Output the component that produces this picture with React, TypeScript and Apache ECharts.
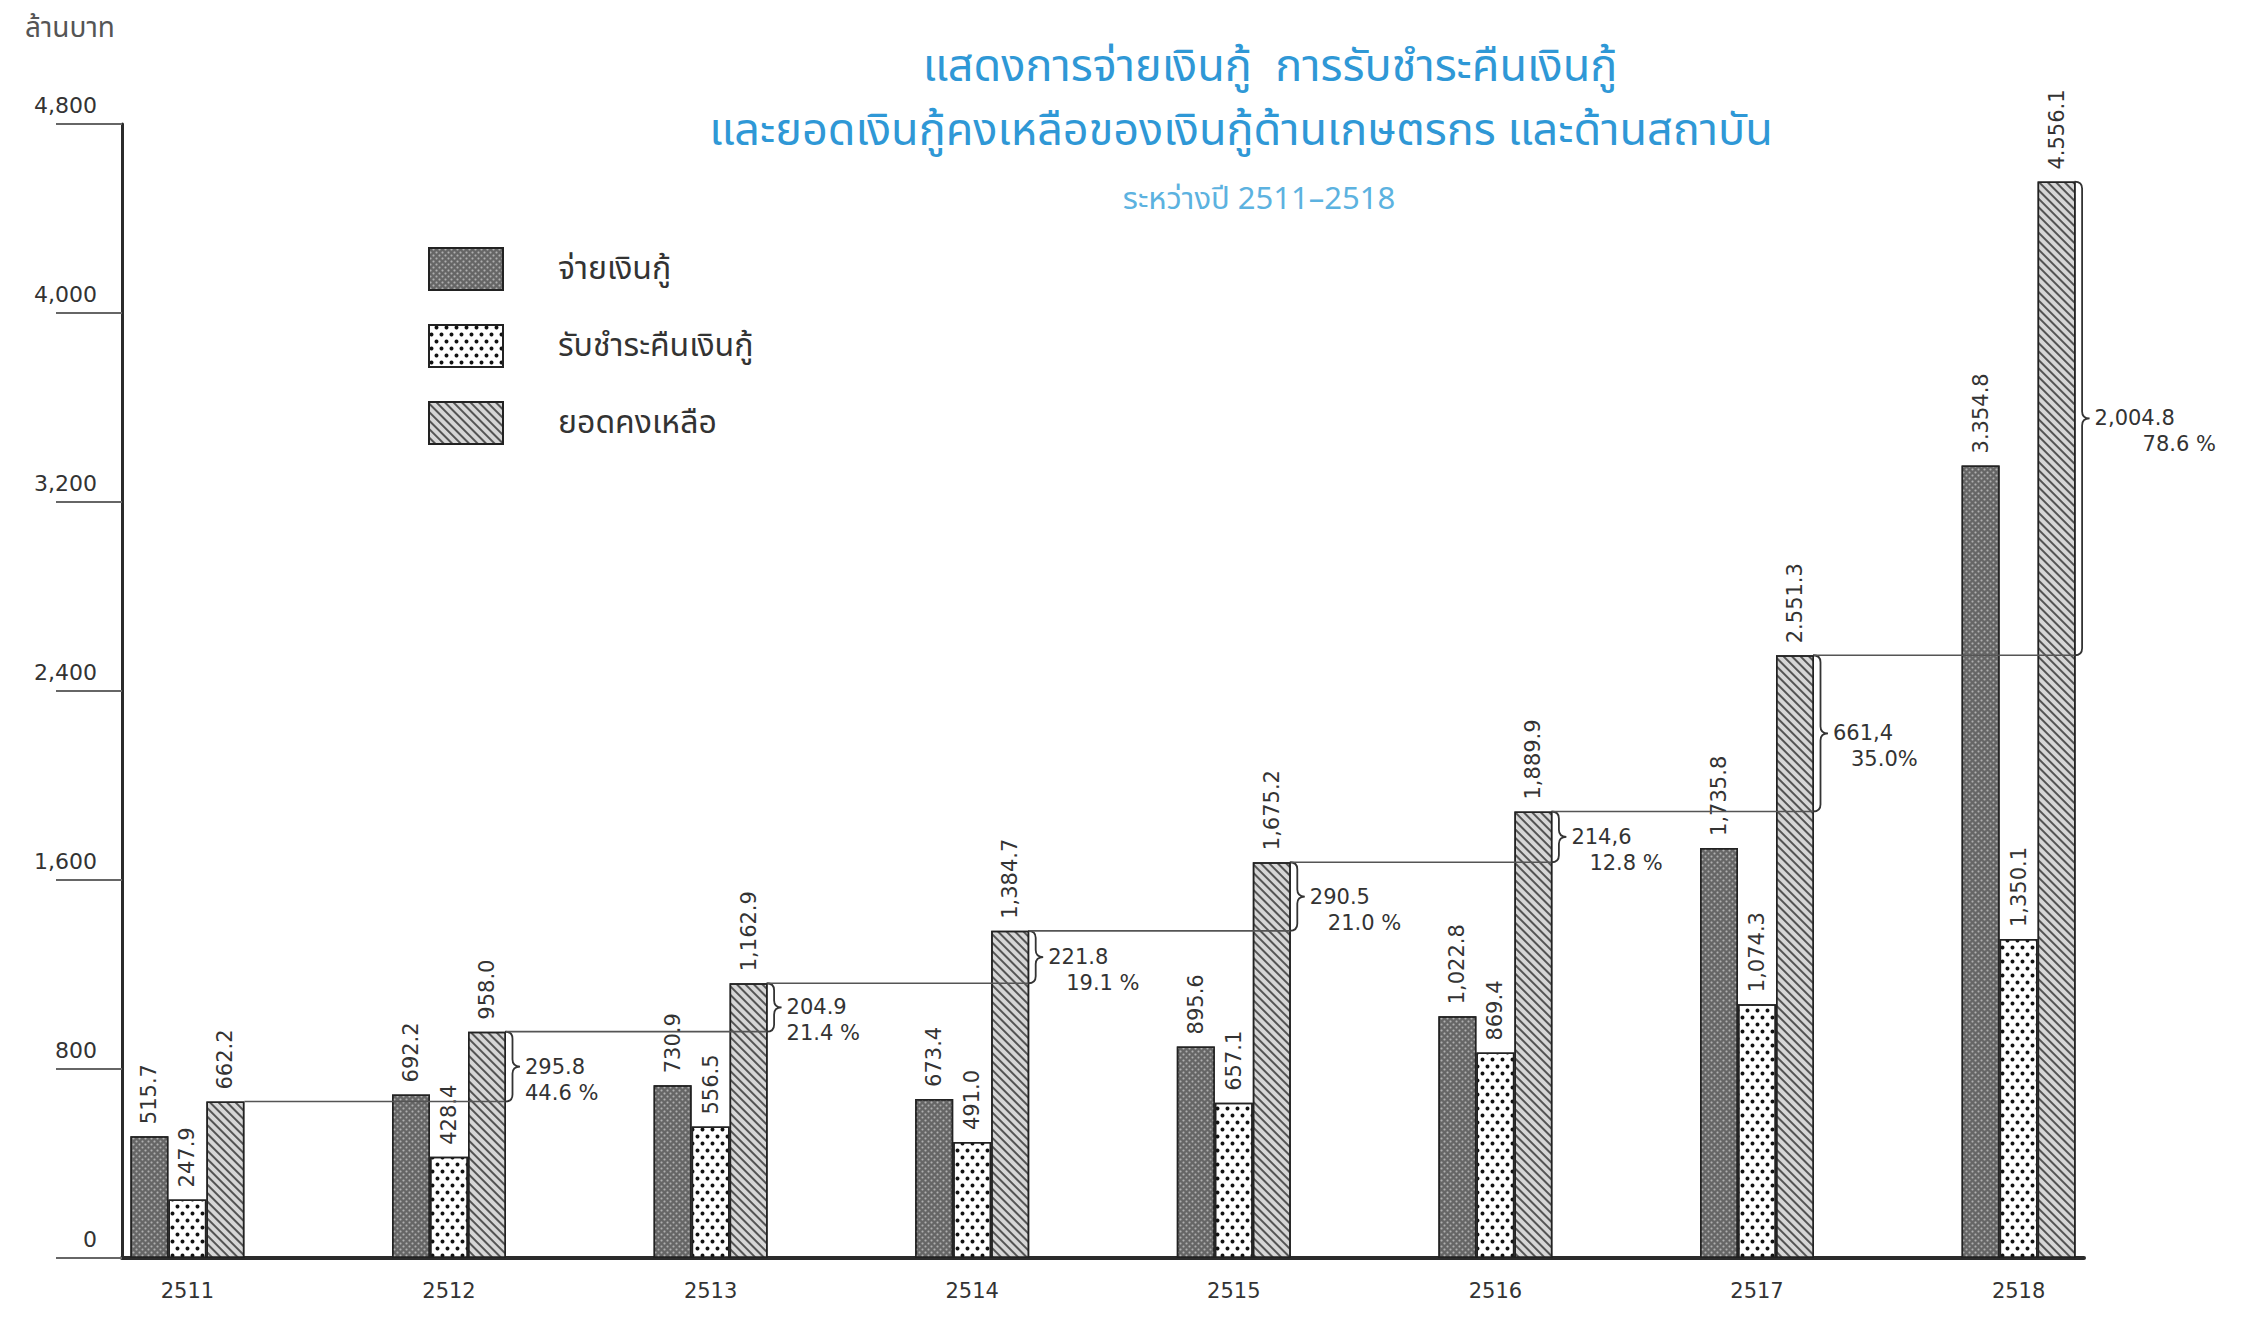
import React, { useEffect, useRef } from 'react';
import * as echarts from 'echarts';

// ---------- data ----------
const years = ['2511', '2512', '2513', '2514', '2515', '2516', '2517', '2518'];
const disbursed = [515.7, 692.2, 730.9, 673.4, 895.6, 1022.8, 1735.8, 3354.8];
const repaid = [247.9, 428.4, 556.5, 491.0, 657.1, 869.4, 1074.3, 1350.1];
const balance = [662.2, 958.0, 1162.9, 1384.7, 1675.2, 1889.9, 2551.3, 4556.1];

const disbursedLabels = ['515.7', '692.2', '730.9', '673.4', '895.6', '1,022.8', '1,735.8', '3.354.8'];
const repaidLabels = ['247.9', '428.4', '556.5', '491.0', '657.1', '869.4', '1,074.3', '1,350.1'];
const balanceLabels = ['662.2', '958.0', '1,162.9', '1,384.7', '1,675.2', '1,889.9', '2.551.3', '4.556.1'];

const increaseLabels = ['295.8', '204.9', '221.8', '290.5', '214,6', '661,4', '2,004.8'];
const increasePctLabels = ['44.6 %', '21.4 %', '19.1 %', '21.0 %', '12.8 %', '35.0%', '78.6 %'];

const seriesNames = ['จ่ายเงินกู้', 'รับชำระคืนเงินกู้', 'ยอดคงเหลือ'];
const unitLabel = 'ล้านบาท';
const titleLine1 = 'แสดงการจ่ายเงินกู้  การรับชำระคืนเงินกู้';
const titleLine2 = 'และยอดเงินกู้คงเหลือของเงินกู้ด้านเกษตรกร และด้านสถาบัน';
const titleLine3 = 'ระหว่างปี 2511–2518';

const yMin = 0;
const yMax = 4800;
const yStep = 800;

// ---------- style ----------
const NUM_FONT = '"DejaVu Sans", "Liberation Sans", sans-serif';
const THAI_FONT = '"Noto Sans Thai", "Noto Sans Thai Looped", Loma, Garuda, Kinnari, Norasi, "Noto Sans", sans-serif';
const BAR_W = 38;
const INK = '#2b2b2b';
const BLUE = '#2f98d6';

export default function App() {
  const ref = useRef<HTMLDivElement>(null);

  useEffect(() => {
    document.body.style.margin = '0';
    if (!ref.current) return;
    const chart = echarts.init(ref.current, null, { renderer: 'svg' });

    const barLabel = (labels: string[]) => ({
      show: true,
      position: 'top',
      rotate: 90,
      align: 'left',
      verticalAlign: 'middle',
      distance: 12,
      fontSize: 21,
      fontFamily: NUM_FONT,
      color: '#333',
      formatter: (p: any) => labels[p.dataIndex],
    });

    const annotationData = balance.slice(1).map((v, k) => [k + 1, balance[k], v]);

    const option: any = {
      animation: false,
      backgroundColor: '#ffffff',
      title: [
        {
          text: unitLabel,
          left: 20,
          top: 9,
          textStyle: { fontSize: 28, color: '#555', fontWeight: 'normal', fontFamily: THAI_FONT },
        },
        {
          text: titleLine1,
          left: 1265,
          top: 39,
          textAlign: 'center',
          textStyle: { fontSize: 45, color: BLUE, fontWeight: 'normal', fontFamily: THAI_FONT },
        },
        {
          text: titleLine2,
          left: 1236,
          top: 103,
          textAlign: 'center',
          textStyle: { fontSize: 45, color: BLUE, fontWeight: 'normal', fontFamily: THAI_FONT },
        },
        {
          text: titleLine3,
          left: 1254,
          top: 179,
          textAlign: 'center',
          textStyle: { fontSize: 31, color: '#5cb2e0', fontWeight: 'normal', fontFamily: THAI_FONT },
        },
      ],
      legend: {
        data: seriesNames,
        orient: 'vertical',
        left: 423,
        top: 242,
        itemWidth: 74,
        itemHeight: 42,
        itemGap: 33,
        icon: 'rect',
        textStyle: { fontSize: 32, color: '#333', fontFamily: THAI_FONT, padding: [0, 0, 0, 50] },
      },
      grid: { left: 122, right: 169, top: 124, bottom: 59, containLabel: false },
      xAxis: {
        type: 'value',
        min: -0.25,
        max: 7.25,
        interval: 0.25,
        axisLine: { show: true, onZero: false, lineStyle: { color: INK, width: 4 } },
        axisTick: { show: false },
        splitLine: { show: false },
        axisLabel: {
          margin: 22,
          fontSize: 21,
          fontFamily: NUM_FONT,
          color: '#333',
          formatter: (v: number) => {
            const r = Math.round(v);
            return Math.abs(v - r) < 1e-6 && r >= 0 && r < years.length ? years[r] : '';
          },
        },
      },
      yAxis: {
        type: 'value',
        min: yMin,
        max: yMax,
        interval: yStep,
        axisLine: { show: true, onZero: false, lineStyle: { color: INK, width: 3 } },
        axisTick: { show: true, inside: false, length: 66, lineStyle: { color: '#666', width: 2 } },
        splitLine: { show: false },
        axisLabel: {
          margin: 25,
          fontSize: 22,
          fontFamily: NUM_FONT,
          color: '#333',
          align: 'right',
          verticalAlign: 'bottom',
          padding: [0, 0, 8, 0],
          formatter: (v: number) => v.toLocaleString('en-US'),
        },
      },
      series: [
        {
          name: seriesNames[0],
          type: 'bar',
          barWidth: BAR_W,
          barGap: '0%',
          data: disbursed.map((v, i) => [i, v]),
          itemStyle: {
            color: '#666666',
            borderColor: '#222',
            borderWidth: 1.5,
            decal: {
              symbol: 'circle',
              symbolSize: 0.7,
              color: 'rgba(235,235,235,0.55)',
              dashArrayX: [[3, 3], [0, 3, 3, 0]],
              dashArrayY: [3, 0],
            },
          },
          label: barLabel(disbursedLabels),
        },
        {
          name: seriesNames[1],
          type: 'bar',
          barWidth: BAR_W,
          barGap: '0%',
          data: repaid.map((v, i) => [i, v]),
          itemStyle: {
            color: '#ffffff',
            borderColor: '#222',
            borderWidth: 1.5,
            decal: {
              symbol: 'circle',
              symbolSize: 0.8,
              color: '#111',
              dashArrayX: [[5, 5], [0, 5, 5, 0]],
              dashArrayY: [5, 2],
            },
          },
          label: barLabel(repaidLabels),
        },
        {
          name: seriesNames[2],
          type: 'bar',
          barWidth: BAR_W,
          barGap: '0%',
          data: balance.map((v, i) => [i, v]),
          itemStyle: {
            color: '#d6d6d6',
            borderColor: '#222',
            borderWidth: 1.5,
            decal: {
              symbol: 'rect',
              symbolSize: 1,
              color: 'rgba(40,40,40,0.75)',
              dashArrayX: [1, 0],
              dashArrayY: [2, 4],
              rotation: Math.PI / 4,
            },
          },
          label: barLabel(balanceLabels),
        },
        {
          name: 'change',
          type: 'custom',
          z: 5,
          clip: false,
          silent: true,
          encode: { x: 0, y: 2 },
          data: annotationData,
          renderItem: (params: any, api: any) => {
            const k = params.dataIndex;
            const idx = api.value(0);
            const prev = api.value(1);
            const cur = api.value(2);
            const off = BAR_W * 1.5;
            const xr = api.coord([idx, 0])[0] + off;
            const xp = api.coord([idx - 1, 0])[0] + off;
            const yPrev = api.coord([idx, prev])[1];
            const yCur = api.coord([idx, cur])[1];
            const mid = (yPrev + yCur) / 2;
            const bx = xr - 1;
            const bw = 15;
            const hx = bx + bw / 2;
            const r = Math.min(7, (yPrev - yCur) / 4);
            const d =
              `M${bx} ${yCur} Q${hx} ${yCur} ${hx} ${yCur + r} L${hx} ${mid - r} ` +
              `Q${hx} ${mid} ${bx + bw} ${mid} Q${hx} ${mid} ${hx} ${mid + r} ` +
              `L${hx} ${yPrev - r} Q${hx} ${yPrev} ${bx} ${yPrev}`;
            const tx = bx + bw + 5;
            return {
              type: 'group',
              children: [
                {
                  type: 'line',
                  shape: { x1: xp, y1: yPrev, x2: xr, y2: yPrev },
                  style: { stroke: '#555', lineWidth: 1.6 },
                },
                {
                  type: 'path',
                  shape: { pathData: d },
                  style: { fill: null, stroke: '#333', lineWidth: 1.8 },
                },
                {
                  type: 'text',
                  style: {
                    text: increaseLabels[k],
                    x: tx,
                    y: mid,
                    fill: '#333',
                    fontSize: 21,
                    fontFamily: NUM_FONT,
                    align: 'left',
                    verticalAlign: 'middle',
                  },
                },
                {
                  type: 'text',
                  style: {
                    text: increasePctLabels[k],
                    x: tx + (k >= 2 ? 18 : 0) + (k === 6 ? 30 : 0),
                    y: mid + 26,
                    fill: '#333',
                    fontSize: 21,
                    fontFamily: NUM_FONT,
                    align: 'left',
                    verticalAlign: 'middle',
                  },
                },
              ],
            };
          },
        },
      ],
    };

    chart.setOption(option);
    return () => chart.dispose();
  }, []);

  return <div ref={ref} style={{ width: 2253, height: 1317 }} />;
}
